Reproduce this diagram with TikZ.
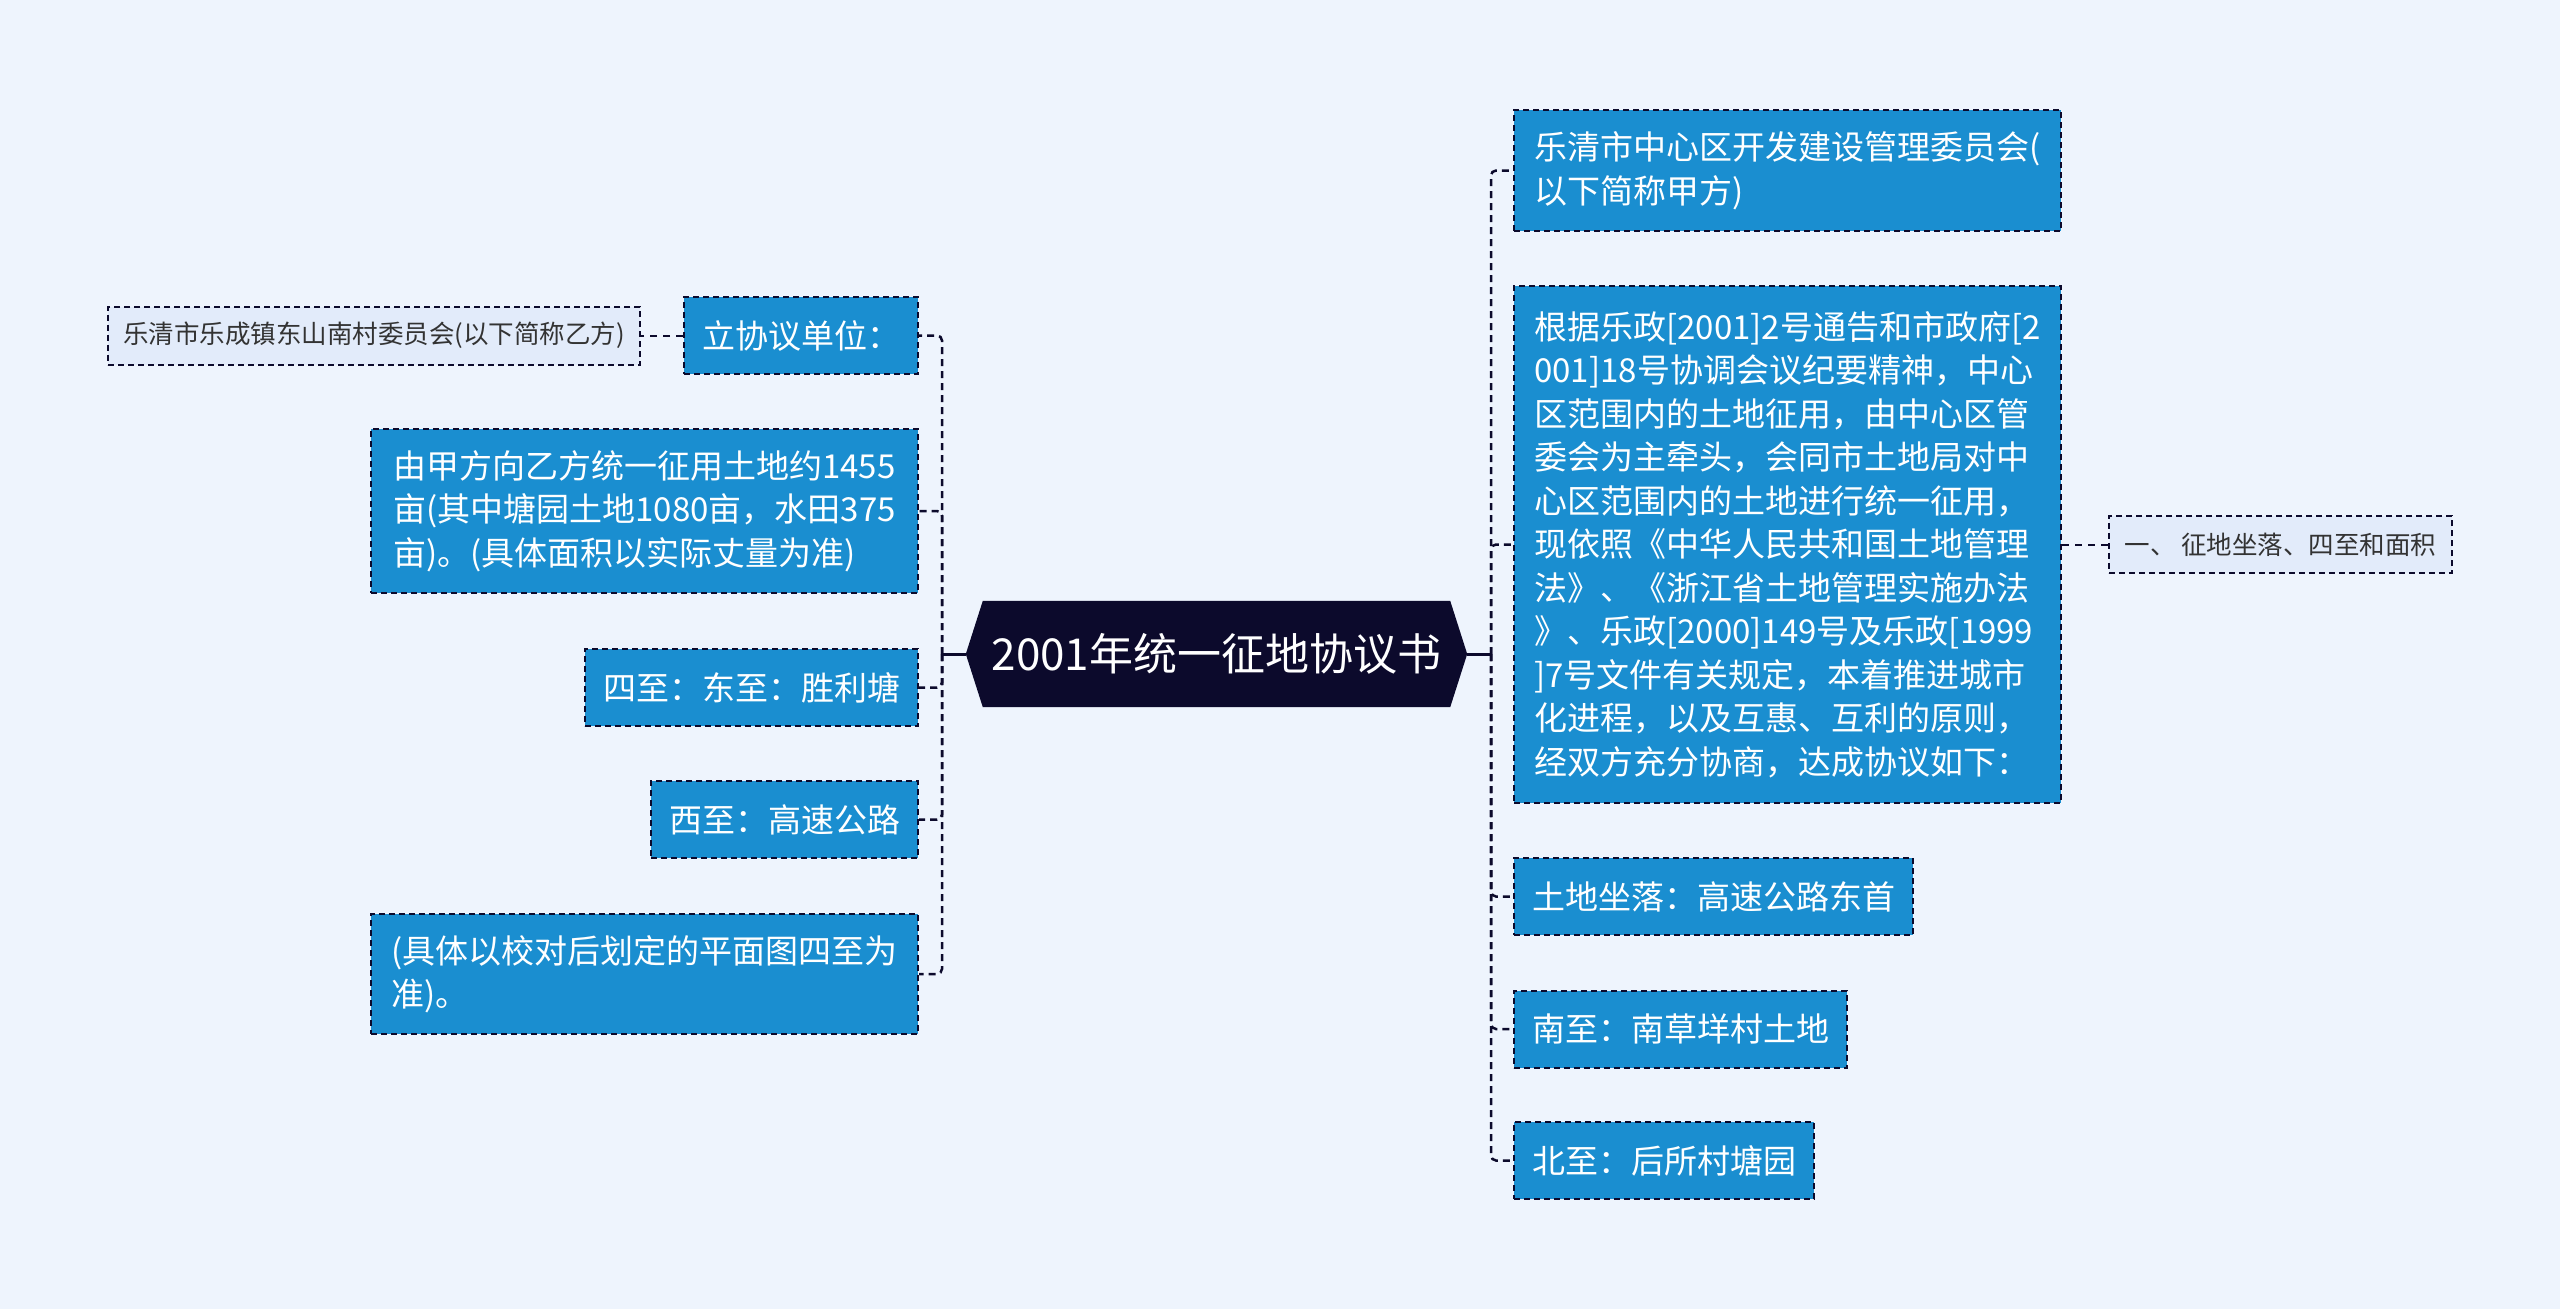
\documentclass[tikz,border=0pt]{standalone}
\usepackage{fontspec}
\newfontfamily\cjk{Noto Sans CJK SC}
\usetikzlibrary{backgrounds,calc}
\definecolor{bgc}{HTML}{EEF4FD}
\definecolor{boxc}{HTML}{1A8ED0}
\definecolor{lboxc}{HTML}{E2EBFA}
\definecolor{rootc}{HTML}{0C0A2C}
\definecolor{linec}{HTML}{0C0A2C}
\definecolor{txtc}{HTML}{333333}
\begin{document}
\begin{tikzpicture}[x=1pt,y=-1pt,
  box/.style={draw=linec, fill=boxc, line width=2pt, dash pattern=on 6pt off 4pt,
    text=white, font=\cjk\fontsize{33}{43.5}\selectfont,
    inner xsep=18pt, inner ysep=0pt, align=left},
  lbox/.style={draw=linec, fill=lboxc, line width=2pt, dash pattern=on 6pt off 4pt,
    text=txtc, font=\cjk\fontsize{25.5}{32}\selectfont,
    inner xsep=10pt, inner ysep=0pt, align=left},
  conn/.style={draw=linec, line width=2.5pt, dash pattern=on 7pt off 5pt, rounded corners=5pt},
  conn2/.style={draw=linec, line width=2pt, dash pattern=on 7pt off 6pt},
  rootline/.style={draw=linec, line width=3pt}]
\useasboundingbox (0,0) rectangle (2560,1309);
\begin{scope}[on background layer]
\fill[bgc] (0,0) rectangle (2560,1309);
\end{scope}

% root
\node[font=\cjk\fontsize{44}{50}\selectfont, text=white, minimum width=467pt,
  minimum height=106pt, inner sep=0pt] (root) at (1216.5,654) {2001年统一征地协议书};
\begin{scope}[on background layer]
\fill[rootc] (root.north west) -- ($(root.west)+(-17,0)$) -- (root.south west)
  -- (root.south east) -- ($(root.east)+(17,0)$) -- (root.north east) -- cycle;
\end{scope}
\coordinate (rootL) at ($(root.west)+(-17,0)$);
\coordinate (rootR) at ($(root.east)+(17,0)$);
\coordinate (lj) at (942,654);
\coordinate (rj) at (1491,654);

% left side
\node[box, anchor=east, minimum width=231pt, minimum height=77pt] (lixie) at (919,335.5) {立协议单位：};
\node[lbox, anchor=east, minimum width=532pt, minimum height=58pt] (yi) at (641,335.5) {乐清市乐成镇东山南村委员会(以下简称乙方)};
\node[box, anchor=east, minimum width=547pt, minimum height=164pt] (youjia) at (919,511) {由甲方向乙方统一征用土地约1455\\亩(其中塘园土地1080亩，水田375\\亩)。(具体面积以实际丈量为准)};
\node[box, anchor=east, minimum width=331pt, minimum height=77pt] (sizhi) at (919,687.5) {四至：东至：胜利塘};
\node[box, anchor=east, minimum width=264pt, minimum height=77pt] (xizhi) at (919,819.5) {西至：高速公路};
\node[box, anchor=east, minimum width=547pt, minimum height=120pt] (juti) at (919,974) {(具体以校对后划定的平面图四至为\\准)。};

% right side
\node[box, anchor=west, minimum width=547pt, minimum height=121pt] (jia) at (1513,170.5) {乐清市中心区开发建设管理委员会(\\以下简称甲方)};
\node[box, anchor=west, minimum width=547pt, minimum height=517pt] (genju) at (1513,544.5) {根据乐政[2001]2号通告和市政府[2\\001]18号协调会议纪要精神，中心\\区范围内的土地征用，由中心区管\\委会为主牵头，会同市土地局对中\\心区范围内的土地进行统一征用，\\现依照《中华人民共和国土地管理\\法》、《浙江省土地管理实施办法\\》、乐政[2000]149号及乐政[1999\\]7号文件有关规定，本着推进城市\\化进程，以及互惠、互利的原则，\\经双方充分协商，达成协议如下：};
\node[lbox, anchor=west, minimum width=343pt, minimum height=57pt] (zhengdi) at (2108,544.5) {一、 征地坐落、四至和面积};
\node[box, anchor=west, minimum width=397pt, minimum height=77pt] (zuoluo) at (1513,896.5) {土地坐落：高速公路东首};
\node[box, anchor=west, minimum width=331pt, minimum height=77pt] (nanzhi) at (1513,1029) {南至：南草垟村土地};
\node[box, anchor=west, minimum width=299pt, minimum height=77pt] (beizhi) at (1513,1160.5) {北至：后所村塘园};

% connectors
\draw[rootline] (rootL) -- (lj);
\draw[rootline] (rootR) -- (rj);
\foreach \n in {lixie,youjia,sizhi,xizhi,juti} { \draw[conn] (lj) |- (\n.east); }
\foreach \n in {jia,genju,zuoluo,nanzhi,beizhi} { \draw[conn] (rj) |- (\n.west); }
\draw[conn2] (lixie.west) -- (yi.east);
\draw[conn2] (genju.east) -- (zhengdi.west);
\end{tikzpicture}
\end{document}
